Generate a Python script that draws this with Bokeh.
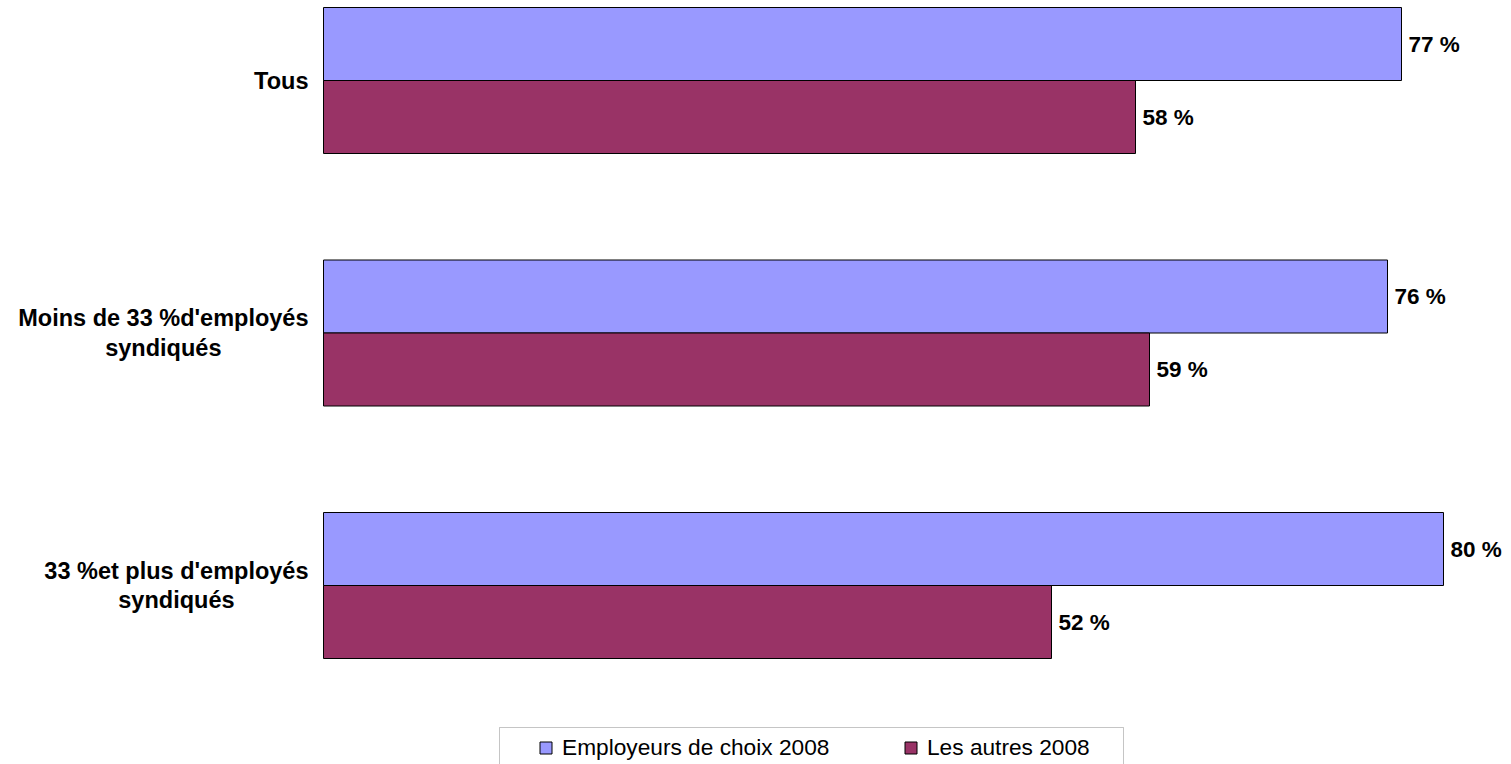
from bokeh.plotting import figure
from bokeh.models import ColumnDataSource, Range1d, Legend, LegendItem, BoxAnnotation
from bokeh.core.properties import value
from bokeh.embed import file_html
from bokeh.resources import INLINE

# ---- data ----
categories = [
    "Tous",
    "Moins de 33 %d'employés\nsyndiqués",
    "33 %et plus d'employés\nsyndiqués",
]
employeurs_de_choix = [77, 76, 80]
les_autres = [58, 59, 52]
series_names = ["Employeurs de choix 2008", "Les autres 2008"]
series_colors = ["#9999FF", "#993366"]

# ---- layout constants (style) ----
W, H = 1511, 764
LEFT_PX = 323          # pixel where value 0 sits
PX_PER_PCT = 14.0
CAT_TOP_PX = 80        # pixel of first category centre
CAT_STEP_PX = 252.5
BAR_H = 73 / CAT_STEP_PX
FONT = "Liberation Sans"

idx = list(range(len(categories)))

p = figure(
    width=W, height=H, output_backend="svg", toolbar_location=None,
    min_border=0, min_border_left=0, min_border_right=0,
    min_border_top=0, min_border_bottom=0,
    x_range=Range1d(-LEFT_PX / PX_PER_PCT, (W - LEFT_PX) / PX_PER_PCT),
    y_range=Range1d((H - CAT_TOP_PX) / CAT_STEP_PX, -CAT_TOP_PX / CAT_STEP_PX),
)
p.xaxis.visible = False
p.yaxis.visible = False
p.xgrid.visible = False
p.ygrid.visible = False
p.outline_line_color = None
p.background_fill_color = "white"
p.border_fill_color = "white"

src = ColumnDataSource(dict(
    idx=idx,
    cat=categories,
    a=employeurs_de_choix,
    b=les_autres,
    ya=[i - BAR_H / 2 for i in idx],
    yb=[i + BAR_H / 2 for i in idx],
    la=[f"{v} %" for v in employeurs_de_choix],
    lb=[f"{v} %" for v in les_autres],
))

ra = p.hbar(y="ya", left=0, right="a", height=BAR_H, source=src,
            fill_color=series_colors[0], line_color="black", line_width=1)
rb = p.hbar(y="yb", left=0, right="b", height=BAR_H, source=src,
            fill_color=series_colors[1], line_color="black", line_width=1)

# value labels
for xcol, ycol, lcol in (("a", "ya", "la"), ("b", "yb", "lb")):
    p.text(x=xcol, y=ycol, text=lcol, source=src, x_offset=7,
           text_align="left", text_baseline="middle",
           text_font=value(FONT), text_font_style="bold",
           text_font_size="22.5px", text_color="black")

# category labels
p.text(x=0, y="idx", text="cat", source=src, x_offset=-15,
       anchor="center_right", text_align="center", text_baseline="middle",
       text_line_height=1.15,
       text_font=value(FONT), text_font_style="bold",
       text_font_size="23.5px", text_color="black")

# legend
legend = Legend(
    items=[LegendItem(label=series_names[0], renderers=[ra]),
           LegendItem(label=series_names[1], renderers=[rb])],
    orientation="horizontal",
    location=(538, H - 736 - 25),
    padding=0, spacing=0, margin=0,
    glyph_width=15, glyph_height=15,
    label_standoff=9, label_width=341, label_height=25,
    label_text_font=FONT, label_text_font_size="22.7px",
    label_text_color="black",
    border_line_color=None, background_fill_alpha=0,
)
p.add_layout(legend, "center")

box = BoxAnnotation(left=499, right=1123, top=727, bottom=H + 40,
                    left_units="canvas", right_units="canvas",
                    top_units="canvas", bottom_units="canvas",
                    fill_alpha=0, line_color="#404040", line_width=1)
p.add_layout(box)

open("out.html", "w").write(file_html(p, INLINE))
